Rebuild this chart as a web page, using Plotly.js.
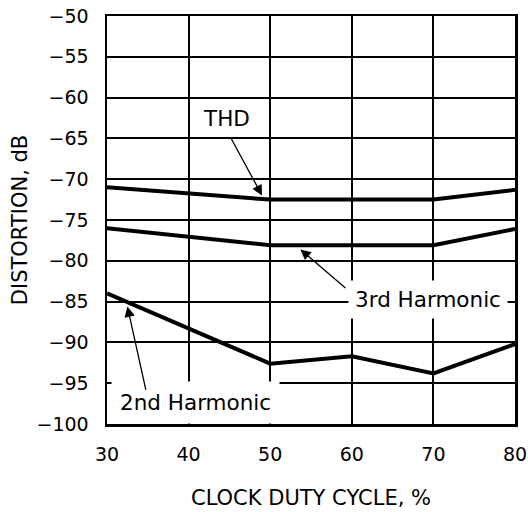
<!DOCTYPE html>
<html>
<head>
<meta charset="utf-8">
<script src="https://cdn.plot.ly/plotly-3.0.1.min.js"></script>
<style>html,body{margin:0;padding:0;background:#fff;}#chart{width:528px;height:512px;}</style>
</head>
<body>
<div id="chart"></div>
<script>
const dutyCycle = [30, 50, 60, 70, 80];
const thd = [-71.0, -72.5, -72.5, -72.5, -71.3];
const harmonic3 = [-76.0, -78.1, -78.1, -78.1, -76.1];
const harmonic2 = [-84.0, -92.6, -91.7, -93.8, -90.2];
const xTicks = [30, 40, 50, 60, 70, 80];
const yTicks = [-100, -95, -90, -85, -80, -75, -70, -65, -60, -55, -50];

const FONT = 'DejaVu Sans, sans-serif';
const lineStyle = {color: '#000', width: 4};

const traces = [
  {x: dutyCycle, y: thd, mode: 'lines', line: lineStyle, name: 'THD'},
  {x: dutyCycle, y: harmonic3, mode: 'lines', line: lineStyle, name: '3rd Harmonic'},
  {x: dutyCycle, y: harmonic2, mode: 'lines', line: lineStyle, name: '2nd Harmonic'}
];

const axisCommon = {
  showgrid: true, gridcolor: '#000', gridwidth: 2,
  showline: true, linecolor: '#000', linewidth: 2.5, mirror: true,
  zeroline: false, ticks: '', ticklabelstandoff: 12,
  tickfont: {family: FONT, size: 19, color: '#000'}
};

const annFont = {family: FONT, size: 21.5, color: '#000'};
const arrow = {showarrow: true, arrowhead: 2, arrowsize: 1.6, arrowwidth: 1.3, arrowcolor: '#000',
  axref: 'x', ayref: 'y', text: '', standoff: 0, startstandoff: 0};

const layout = {
  width: 528, height: 512,
  margin: {l: 107, r: 13, t: 16, b: 88},
  paper_bgcolor: '#fff', plot_bgcolor: '#fff',
  showlegend: false,
  xaxis: Object.assign({}, axisCommon, {
    range: [30, 80], tickvals: xTicks,
    title: {text: 'CLOCK DUTY CYCLE, %', font: {family: FONT, size: 21, color: '#000'}, standoff: 26}
  }),
  yaxis: Object.assign({}, axisCommon, {
    range: [-100, -50], tickvals: yTicks,
    title: {text: 'DISTORTION, dB', font: {family: FONT, size: 21, color: '#000'}, standoff: 3}
  }),
  annotations: [
    {x: 44.6, y: -62.5, text: 'THD', showarrow: false, font: annFont},
    {x: 69.3, y: -84.8, text: '3rd Harmonic', showarrow: false, font: annFont, bgcolor: '#fff', borderpad: 6},
    {x: 40.9, y: -97.4, text: '2nd Harmonic', showarrow: false, font: annFont, bgcolor: '#fff', borderpad: 8},
    Object.assign({}, arrow, {x: 49.0, y: -72.0, ax: 45.1, ay: -64.8}),
    Object.assign({}, arrow, {x: 53.7, y: -78.6, ax: 59.4, ay: -83.5}),
    Object.assign({}, arrow, {x: 32.5, y: -85.6, ax: 34.8, ay: -96.0})
  ]
};

Plotly.newPlot('chart', traces, layout, {displayModeBar: false, staticPlot: true});
</script>
</body>
</html>
